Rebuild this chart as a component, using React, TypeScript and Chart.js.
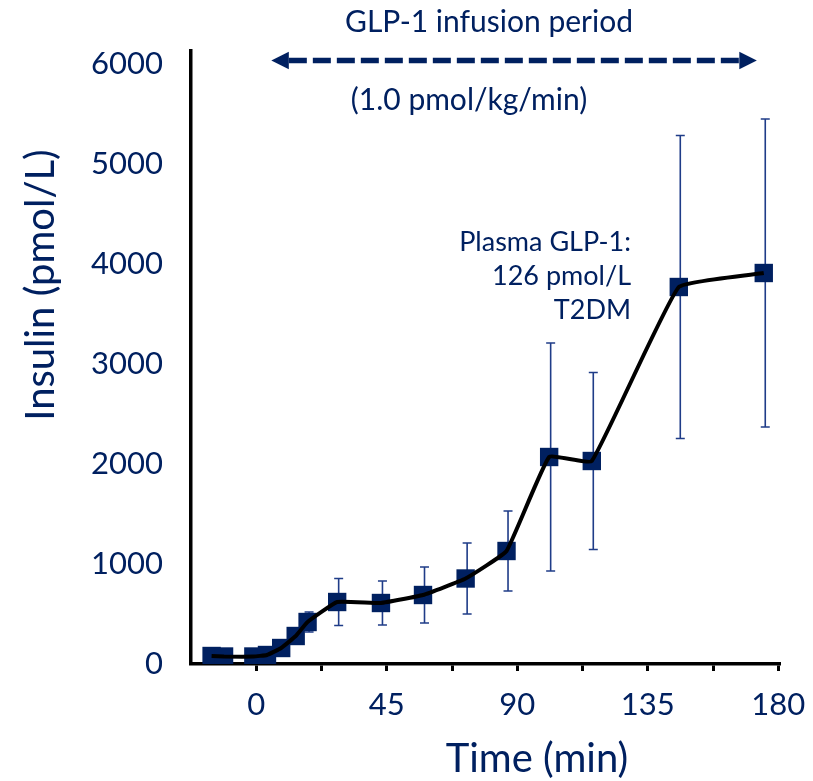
import React, { useEffect, useRef } from "react";
import { Chart, registerables } from "chart.js";

Chart.register(...registerables);

// ---- data ----
const timeMin = [-15.4, -11.1, -1.0, 3.7, 8.6, 13.6, 17.7, 27.9, 43.0, 57.5, 72.2, 86.3, 101.0, 115.7, 145.7, 175.0];
const insulin = [80, 75, 75, 90, 160, 280, 420, 620, 610, 690, 855, 1130, 2070, 2030, 3770, 3910];
const sem = [0, 0, 0, 0, 0, 0, 100, 235, 220, 280, 355, 400, 1140, 885, 1515, 1540];

const xTickValues = [0, 22.5, 45, 67.5, 90, 112.5, 135, 157.5, 180];
const xLabelValues = [0, 45, 90, 135, 180];
const yTickValues = [0, 1000, 2000, 3000, 4000, 5000, 6000];

const xTitle = "Time (min)";
const yTitle = "Insulin (pmol/L)";
const infusionTitle = "GLP-1 infusion period";
const infusionRate = "(1.0 pmol/kg/min)";
const noteLines = ["Plasma GLP-1:", "126 pmol/L", "T2DM"];
const arrowFrom = 5.2;
const arrowTo = 172.6;
const arrowY = 6035;

const NAVY = "#002060";
const BAR = "#1F3C88";
const FONT = "Lato, 'Open Sans', sans-serif";

const errorBarPlugin = {
  id: "errorBars",
  beforeDatasetsDraw(chart: any) {
    const { ctx, scales } = chart;
    const x = scales.x;
    const y = scales.y;
    ctx.save();
    ctx.strokeStyle = BAR;
    ctx.lineWidth = 1.6;
    for (let i = 0; i < timeMin.length; i++) {
      if (!sem[i]) continue;
      const px = x.getPixelForValue(timeMin[i]) + 1.5;
      const top = y.getPixelForValue(insulin[i] + sem[i]);
      const bot = y.getPixelForValue(insulin[i] - sem[i]);
      ctx.beginPath();
      ctx.moveTo(px, top);
      ctx.lineTo(px, bot);
      ctx.moveTo(px - 4.5, top);
      ctx.lineTo(px + 4.5, top);
      ctx.moveTo(px - 4.5, bot);
      ctx.lineTo(px + 4.5, bot);
      ctx.stroke();
    }
    ctx.restore();
  },
};

const annotationPlugin = {
  id: "annotations",
  afterDraw(chart: any) {
    const { ctx, scales } = chart;
    const x = scales.x;
    const y = scales.y;
    ctx.save();
    ctx.fillStyle = NAVY;

    // axis titles
    ctx.font = `40px ${FONT}`;
    ctx.textAlign = "center";
    ctx.textBaseline = "middle";
    ctx.fillText(xTitle, 537, 759);
    ctx.save();
    ctx.translate(41, 285);
    ctx.rotate(-Math.PI / 2);
    ctx.fillText(yTitle, 0, 0);
    ctx.restore();

    // infusion annotation
    ctx.font = `30px ${FONT}`;
    ctx.fillText(infusionTitle, 489, 22);
    ctx.fillText(infusionRate, 469, 100);

    // dashed double arrow
    const ay = y.getPixelForValue(arrowY);
    const ax1 = x.getPixelForValue(arrowFrom);
    const ax2 = x.getPixelForValue(arrowTo);
    const head = 17.5;
    ctx.strokeStyle = NAVY;
    ctx.lineWidth = 5.5;
    ctx.setLineDash([18, 6]);
    ctx.beginPath();
    ctx.moveTo(ax1 + head, ay);
    ctx.lineTo(ax2 - head, ay);
    ctx.stroke();
    ctx.setLineDash([]);
    ctx.beginPath();
    ctx.moveTo(ax1, ay);
    ctx.lineTo(ax1 + head, ay - head / 2);
    ctx.lineTo(ax1 + head, ay + head / 2);
    ctx.closePath();
    ctx.fill();
    ctx.beginPath();
    ctx.moveTo(ax2, ay);
    ctx.lineTo(ax2 - head, ay - head / 2);
    ctx.lineTo(ax2 - head, ay + head / 2);
    ctx.closePath();
    ctx.fill();

    // note
    ctx.font = `27px ${FONT}`;
    ctx.textAlign = "right";
    noteLines.forEach((t, i) => ctx.fillText(t, 631, 242 + i * 34));
    ctx.restore();
  },
};

export default function App() {
  const ref = useRef<HTMLCanvasElement | null>(null);

  useEffect(() => {
    document.body.style.margin = "0";
    const canvas = ref.current;
    if (!canvas) return;
    const points = timeMin.map((t, i) => ({ x: t, y: insulin[i] }));
    const chart = new Chart(canvas, {
      type: "line",
      data: {
        datasets: [
          {
            label: "line",
            data: points,
            borderColor: "#000",
            borderWidth: 4,
            tension: 0.1,
            pointRadius: 0,
            fill: false,
            order: 1,
          },
          {
            label: "markers",
            data: points,
            showLine: false,
            pointStyle: "rect",
            pointRadius: 13,
            pointBackgroundColor: NAVY,
            pointBorderColor: NAVY,
            pointBorderWidth: 0,
            order: 2,
          },
        ],
      },
      options: {
        responsive: false,
        animation: false,
        devicePixelRatio: 1,
        layout: { padding: { left: 0, right: 33, top: 51, bottom: 0 } },
        plugins: {
          legend: { display: false },
          tooltip: { enabled: false },
        },
        scales: {
          x: {
            type: "linear",
            min: -22.5,
            max: 180.6,
            afterBuildTicks: (s: any) => {
              s.ticks = xTickValues.map((v) => ({ value: v }));
            },
            afterFit: (s: any) => {
              s.height = 117;
              s.paddingLeft = 0;
              s.paddingRight = 0;
            },
            grid: {
              display: true,
              drawOnChartArea: false,
              drawTicks: true,
              tickLength: 7,
              tickWidth: 3,
              tickColor: "#000",
              color: "#000",
            },
            border: { display: true, color: "#000", width: 3.5 },
            ticks: {
              autoSkip: false,
              maxRotation: 0,
              padding: 15,
              color: NAVY,
              font: { family: FONT, size: 31 },
              callback: (v: any) => (xLabelValues.includes(Number(v)) ? String(v) : ""),
            },
          },
          y: {
            type: "linear",
            min: 0,
            max: 6130,
            afterBuildTicks: (s: any) => {
              s.ticks = yTickValues.map((v) => ({ value: v }));
            },
            afterFit: (s: any) => {
              s.width = 191;
              s.paddingTop = 0;
              s.paddingBottom = 0;
            },
            grid: { display: false, drawTicks: false },
            border: { display: true, color: "#000", width: 3.5 },
            ticks: {
              padding: 28,
              color: NAVY,
              font: { family: FONT, size: 31 },
              callback: (v: any) => String(v),
            },
          },
        },
      },
      plugins: [errorBarPlugin, annotationPlugin],
    });
    return () => chart.destroy();
  }, []);

  return (
    <div style={{ width: 813, height: 781, background: "#fff" }}>
      <canvas ref={ref} width={813} height={781} style={{ display: "block" }} />
    </div>
  );
}
